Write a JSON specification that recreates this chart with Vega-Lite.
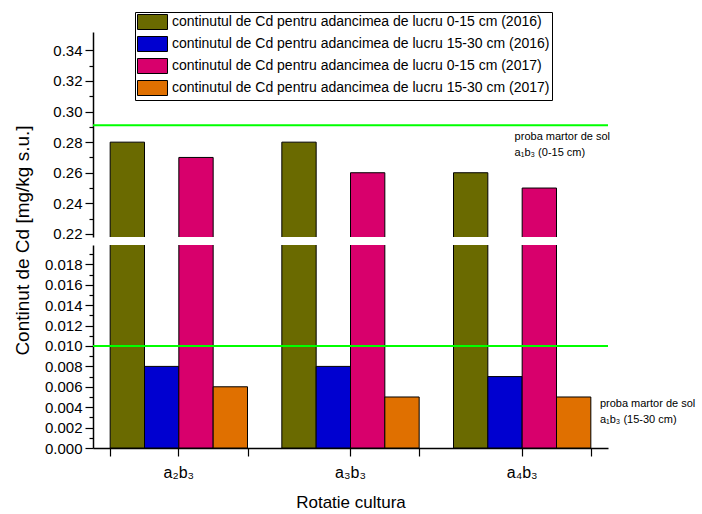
{
  "$schema": "https://vega.github.io/schema/vega-lite/v6.json",
  "autosize": {"type": "pad"},
  "padding": {"left": 13, "top": 11, "right": 5, "bottom": 3},
  "bounds": "flush",
  "spacing": 8,
  "config": {
    "font": "Liberation Sans",
    "view": {"stroke": null},
    "axis": {"domainColor": "black", "domainWidth": 1.5, "ticks": true, "tickColor": "black", "tickWidth": 1.2, "labelColor": "black", "titleColor": "black", "labelFont": "Liberation Sans", "titleFont": "Liberation Sans", "grid": false, "titleFontWeight": "normal", "labelOverlap": false},
    "legend": {"labelFont": "Liberation Sans", "labelColor": "black"}
  },
  "data": {
    "values": [
      {"rot": "a₂b₃", "series": "continutul de Cd pentru adancimea de lucru 0-15 cm (2016)", "val": 0.28},
      {"rot": "a₂b₃", "series": "continutul de Cd pentru adancimea de lucru 15-30 cm (2016)", "val": 0.008},
      {"rot": "a₂b₃", "series": "continutul de Cd pentru adancimea de lucru 0-15 cm (2017)", "val": 0.27},
      {"rot": "a₂b₃", "series": "continutul de Cd pentru adancimea de lucru 15-30 cm (2017)", "val": 0.006},
      {"rot": "a₃b₃", "series": "continutul de Cd pentru adancimea de lucru 0-15 cm (2016)", "val": 0.28},
      {"rot": "a₃b₃", "series": "continutul de Cd pentru adancimea de lucru 15-30 cm (2016)", "val": 0.008},
      {"rot": "a₃b₃", "series": "continutul de Cd pentru adancimea de lucru 0-15 cm (2017)", "val": 0.26},
      {"rot": "a₃b₃", "series": "continutul de Cd pentru adancimea de lucru 15-30 cm (2017)", "val": 0.005},
      {"rot": "a₄b₃", "series": "continutul de Cd pentru adancimea de lucru 0-15 cm (2016)", "val": 0.26},
      {"rot": "a₄b₃", "series": "continutul de Cd pentru adancimea de lucru 15-30 cm (2016)", "val": 0.007},
      {"rot": "a₄b₃", "series": "continutul de Cd pentru adancimea de lucru 0-15 cm (2017)", "val": 0.25},
      {"rot": "a₄b₃", "series": "continutul de Cd pentru adancimea de lucru 15-30 cm (2017)", "val": 0.005}
    ]
  },
  "vconcat": [
    {
      "width": 515,
      "height": 205,
      "resolve": {"axis": {"y": "independent"}},
      "layer": [
        {
          "mark": {"type": "bar", "clip": true, "stroke": "black", "strokeWidth": 1},
          "encoding": {
            "x": {"field": "rot", "type": "nominal", "sort": null, "scale": {"paddingInner": 0.2, "paddingOuter": 0.1}, "axis": null},
            "xOffset": {"field": "series", "type": "nominal", "sort": null, "scale": {"paddingInner": 0, "paddingOuter": 0}},
            "y": {
              "field": "val", "type": "quantitative",
              "scale": {"domain": [0.218, 0.352], "nice": false, "zero": false},
              "axis": {
                "orient": "left",
                "values": [0.22, 0.24, 0.26, 0.28, 0.3, 0.32, 0.34],
                "format": ".2f",
                "ticks": true,
                "tickSize": 8,
                "labelFontSize": 15,
                "labelPadding": 3,
                "title": "Continut de Cd [mg/kg s.u.]",
                "titleFontSize": 19,
                "titleX": -61,
                "titleY": 208
              }
            },
            "color": {
              "field": "series", "type": "nominal", "sort": null,
              "scale": {"range": ["#6a6a00", "#0000d0", "#d8006c", "#e07000"]},
              "legend": {
                "orient": "none", "legendX": 42, "legendY": -20, "title": null,
                "symbolType": "M-1,-1H3V1H-1Z", "symbolSize": 225,
                "symbolStrokeColor": "black", "symbolStrokeWidth": 1, "symbolOpacity": 1,
                "labelFontSize": 14, "labelLimit": 0, "labelOffset": 19,
                "strokeColor": "black", "fillColor": "white", "padding": 2, "rowPadding": 2
              }
            }
          }
        },
        {
          "data": {"values": [{"ref": 0.291}]},
          "mark": {"type": "rule", "color": "#00ff00", "strokeWidth": 2},
          "encoding": {"y": {"field": "ref", "type": "quantitative", "scale": {"domain": [0.218, 0.352], "nice": false, "zero": false}, "axis": null}}
        },
        {
          "data": {"values": [{"rot": "a₄b₃", "pos": 0.2873, "label": ["proba martor de sol", "a₁b₃ (0-15 cm)"]}]},
          "mark": {"type": "text", "align": "left", "baseline": "top", "fontSize": 11, "lineHeight": 16, "color": "black"},
          "encoding": {
            "x": {"field": "rot", "type": "nominal", "bandPosition": 0.445, "axis": null},
            "y": {
              "field": "pos", "type": "quantitative",
              "scale": {"domain": [0.218, 0.352], "nice": false, "zero": false},
              "axis": {"orient": "left", "values": [0.23, 0.25, 0.27, 0.29, 0.31, 0.33], "labels": false, "domain": false, "ticks": true, "tickSize": 4, "title": null}
            },
            "text": {"field": "label"}
          }
        }
      ]
    },
    {
      "width": 515,
      "height": 203,
      "resolve": {"axis": {"x": "independent", "y": "independent"}},
      "layer": [
        {
          "mark": {"type": "bar", "clip": true, "stroke": "black", "strokeWidth": 1},
          "encoding": {
            "x": {
              "field": "rot", "type": "nominal", "sort": null,
              "scale": {"paddingInner": 0.2, "paddingOuter": 0.1},
              "axis": {"orient": "bottom", "title": "Rotatie cultura", "titleFontSize": 17, "labelFontSize": 16, "labelAngle": 0, "ticks": true, "tickSize": 8, "labelPadding": 8, "titlePadding": 14}
            },
            "xOffset": {"field": "series", "type": "nominal", "sort": null, "scale": {"paddingInner": 0, "paddingOuter": 0}},
            "y": {
              "field": "val", "type": "quantitative",
              "scale": {"domain": [0, 0.0199], "nice": false, "zero": false},
              "axis": {
                "orient": "left",
                "values": [0, 0.002, 0.004, 0.006, 0.008, 0.01, 0.012, 0.014, 0.016, 0.018],
                "format": ".3f",
                "ticks": true,
                "tickSize": 8,
                "labelFontSize": 15,
                "labelPadding": 3,
                "title": null
              }
            },
            "color": {
              "field": "series", "type": "nominal", "sort": null,
              "scale": {"range": ["#6a6a00", "#0000d0", "#d8006c", "#e07000"]},
              "legend": null
            }
          }
        },
        {
          "data": {"values": [{"ref": 0.01}]},
          "mark": {"type": "rule", "color": "#00ff00", "strokeWidth": 2},
          "encoding": {"y": {"field": "ref", "type": "quantitative", "scale": {"domain": [0, 0.0199], "nice": false, "zero": false}, "axis": null}}
        },
        {
          "data": {"values": [{"rot": "a₄b₃", "pos": 0.0049, "label": ["proba martor de sol", "a₁b₃ (15-30 cm)"]}]},
          "mark": {"type": "text", "align": "left", "baseline": "top", "fontSize": 11, "lineHeight": 16, "color": "black"},
          "encoding": {
            "x": {"field": "rot", "type": "nominal", "bandPosition": 1.066, "axis": {"orient": "bottom", "labels": false, "domain": false, "ticks": true, "tickSize": 8, "tickBand": "extent", "title": null}},
            "y": {
              "field": "pos", "type": "quantitative",
              "scale": {"domain": [0, 0.0199], "nice": false, "zero": false},
              "axis": {"orient": "left", "values": [0.001, 0.003, 0.005, 0.007, 0.009, 0.011, 0.013, 0.015, 0.017, 0.019], "labels": false, "domain": false, "ticks": true, "tickSize": 4, "title": null}
            },
            "text": {"field": "label"}
          }
        }
      ]
    }
  ]
}
